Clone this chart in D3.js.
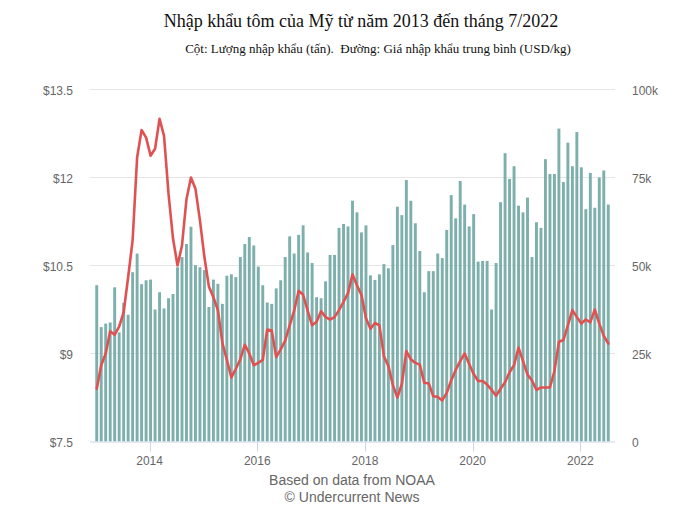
<!DOCTYPE html>
<html>
<head>
<meta charset="utf-8">
<script src="https://cdn.jsdelivr.net/npm/d3@7"></script>
<style>
  html, body { margin: 0; padding: 0; background: #fff; }
  svg { display: block; }
</style>
</head>
<body>
<div id="chart"></div>
<script>
// ---- Data ----
const startMonth = new Date(2013, 0, 1);
const endMonth = new Date(2022, 7, 1); // exclusive -> Jan 2013 .. Jul 2022
const months = d3.timeMonth.range(startMonth, endMonth);

// Import volume (tonnes), monthly
const volume = [
  44400, 32500, 33500, 33800, 43800, 31000, 39400, 36000, 48100, 53400, 44700, 45800,
  46000, 37500, 42400, 37800, 40700, 41900, 49500, 52400, 56100, 61000, 50100, 49500,
  48700, 38200, 46000, 44800, 39100, 47100, 47500, 46700, 52400, 56100, 58100, 55700,
  49700, 44400, 39500, 39100, 43500, 45800, 52400, 58300, 53400, 58700, 61400, 53700,
  50700, 41000, 40700, 45500, 53000, 53000, 60700, 61800, 61100, 68400, 65100, 59400,
  61400, 47200, 45900, 47500, 50400, 49200, 55800, 66700, 64300, 74300, 68400, 62000,
  54100, 42400, 48400, 48400, 53400, 52100, 60100, 70000, 63400, 74000, 67300, 61100,
  64600, 51100, 51300, 51300, 37500, 50700, 68000, 81900, 74600, 78200, 67000, 65100,
  69300, 52400, 62300, 60700, 80200, 76000, 76000, 88900, 73700, 84900, 78200, 87900,
  77900, 66000, 76300, 66400, 75000, 77000, 67300
];

// Average import price (USD/kg), monthly
const price = [
  8.40, 8.80, 9.00, 9.38, 9.32, 9.46, 9.70, 10.30, 10.93, 12.34, 12.81, 12.68,
  12.37, 12.49, 13.00, 12.71, 11.72, 10.96, 10.50, 10.84, 11.63, 12.00, 11.81, 11.27,
  10.64, 10.14, 9.96, 9.74, 9.18, 8.89, 8.59, 8.74, 8.90, 9.15, 9.00, 8.80,
  8.84, 8.89, 9.41, 9.39, 8.94, 9.07, 9.22, 9.48, 9.73, 10.07, 10.00, 9.73,
  9.48, 9.54, 9.72, 9.62, 9.58, 9.62, 9.74, 9.88, 10.03, 10.35, 10.16, 10.00,
  9.60, 9.42, 9.52, 9.48, 8.95, 8.79, 8.46, 8.25, 8.48, 9.04, 8.90, 8.84,
  8.81, 8.50, 8.49, 8.27, 8.26, 8.20, 8.33, 8.54, 8.72, 8.87, 9.00, 8.82,
  8.65, 8.53, 8.53, 8.47, 8.38, 8.28, 8.40, 8.51, 8.68, 8.80, 9.10, 8.87,
  8.64, 8.54, 8.38, 8.42, 8.42, 8.42, 8.70, 9.20, 9.23, 9.48, 9.74, 9.62,
  9.51, 9.58, 9.53, 9.75, 9.51, 9.30, 9.17
];

const leftTicks = [7.5, 9, 10.5, 12, 13.5];
const leftTickLabels = ["$7.5", "$9", "$10.5", "$12", "$13.5"];
const rightTicks = [0, 25000, 50000, 75000, 100000];
const rightTickLabels = ["0", "25k", "50k", "75k", "100k"];
const xTickYears = [2014, 2016, 2018, 2020, 2022];
const xTickLabels = ["2014", "2016", "2018", "2020", "2022"];

const titleText = "Nhập khẩu tôm của Mỹ từ năm 2013 đến tháng 7/2022";
const subtitleText = "Cột: Lượng nhập khẩu (tấn).  Đường: Giá nhập khẩu trung bình (USD/kg)";
const creditLines = ["Based on data from NOAA", "© Undercurrent News"];

// ---- Layout ----
const W = 700, H = 522;
const plotL = 90, plotR = 615, plotT = 89.5, plotB = 441.5;

const svg = d3.select("#chart").append("svg")
  .attr("width", W).attr("height", H)
  .attr("viewBox", `0 0 ${W} ${H}`);

const x = d3.scaleBand()
  .domain(months.map(d => +d))
  .range([plotL, plotR])
  .paddingInner(0.35)
  .paddingOuter(1.175)
  .align(0.5);
const cx = d => x(+d) + x.bandwidth() / 2;

const yL = d3.scaleLinear().domain([7.5, 13.5]).range([plotB, plotT]);
const yR = d3.scaleLinear().domain([0, 100000]).range([plotB, plotT]);

const labelFont = "'Liberation Sans', Arial, sans-serif";

// Gridlines
svg.append("g").selectAll("line")
  .data(leftTicks.filter(t => t > 7.5))
  .join("line")
  .attr("x1", plotL).attr("x2", plotR)
  .attr("y1", d => Math.round(yL(d) - 0.5) + 0.5)
  .attr("y2", d => Math.round(yL(d) - 0.5) + 0.5)
  .attr("stroke", "#e6e6e6").attr("stroke-width", 1);

// Bars
svg.append("g").selectAll("rect")
  .data(months.map((m, i) => ({ m, v: volume[i] })))
  .join("rect")
  .attr("x", d => x(+d.m))
  .attr("width", x.bandwidth())
  .attr("y", d => yR(d.v))
  .attr("height", d => plotB - yR(d.v))
  .attr("fill", "#7dafac");

// X axis line & ticks
svg.append("line")
  .attr("x1", plotL).attr("x2", plotR)
  .attr("y1", plotB + 0.5).attr("y2", plotB + 0.5)
  .attr("stroke", "#ccd6eb").attr("stroke-width", 1);

const tickDates = xTickYears.map(y => new Date(y, 0, 1));
const xAxisG = svg.append("g");
xAxisG.selectAll("line")
  .data(tickDates)
  .join("line")
  .attr("x1", d => Math.round(cx(d) - 1) + 0.5)
  .attr("x2", d => Math.round(cx(d) - 1) + 0.5)
  .attr("y1", plotB).attr("y2", plotB + 10)
  .attr("stroke", "#ccd6eb").attr("stroke-width", 1);
xAxisG.selectAll("text")
  .data(tickDates)
  .join("text")
  .attr("x", d => cx(d) - 1)
  .attr("y", plotB + 23)
  .attr("text-anchor", "middle")
  .attr("font-family", labelFont)
  .attr("font-size", 12)
  .attr("fill", "#666666")
  .text((d, i) => xTickLabels[i]);

// Price line
const line = d3.line()
  .x((d, i) => cx(months[i]))
  .y(d => yL(d));
svg.append("path")
  .datum(price)
  .attr("d", line)
  .attr("fill", "none")
  .attr("stroke", "#e05252")
  .attr("stroke-width", 2.6)
  .attr("stroke-linejoin", "round")
  .attr("stroke-linecap", "round");

// Left axis labels
svg.append("g").selectAll("text")
  .data(leftTicks)
  .join("text")
  .attr("x", 73)
  .attr("y", d => yL(d) + 5.5)
  .attr("text-anchor", "end")
  .attr("font-family", labelFont)
  .attr("font-size", 12)
  .attr("fill", "#666666")
  .text((d, i) => leftTickLabels[i]);

// Right axis labels
svg.append("g").selectAll("text")
  .data(rightTicks)
  .join("text")
  .attr("x", 632)
  .attr("y", d => yR(d) + 5.5)
  .attr("text-anchor", "start")
  .attr("font-family", labelFont)
  .attr("font-size", 12)
  .attr("fill", "#666666")
  .text((d, i) => rightTickLabels[i]);

// Title & subtitle
svg.append("text")
  .attr("x", 361).attr("y", 27)
  .attr("text-anchor", "middle")
  .attr("font-family", "'Liberation Serif', 'Times New Roman', serif")
  .attr("font-size", 18)
  .attr("fill", "#111111")
  .text(titleText);

svg.append("text")
  .attr("x", 378).attr("y", 53)
  .attr("text-anchor", "middle")
  .attr("font-family", "'Liberation Serif', 'Times New Roman', serif")
  .attr("font-size", 13)
  .attr("fill", "#111111")
  .style("white-space", "pre")
  .attr("xml:space", "preserve")
  .text(subtitleText);

// Credits
svg.append("g").selectAll("text")
  .data(creditLines)
  .join("text")
  .attr("x", 352)
  .attr("y", (d, i) => 485 + i * 17)
  .attr("text-anchor", "middle")
  .attr("font-family", labelFont)
  .attr("font-size", 14)
  .attr("fill", "#666666")
  .text(d => d);
</script>
</body>
</html>
